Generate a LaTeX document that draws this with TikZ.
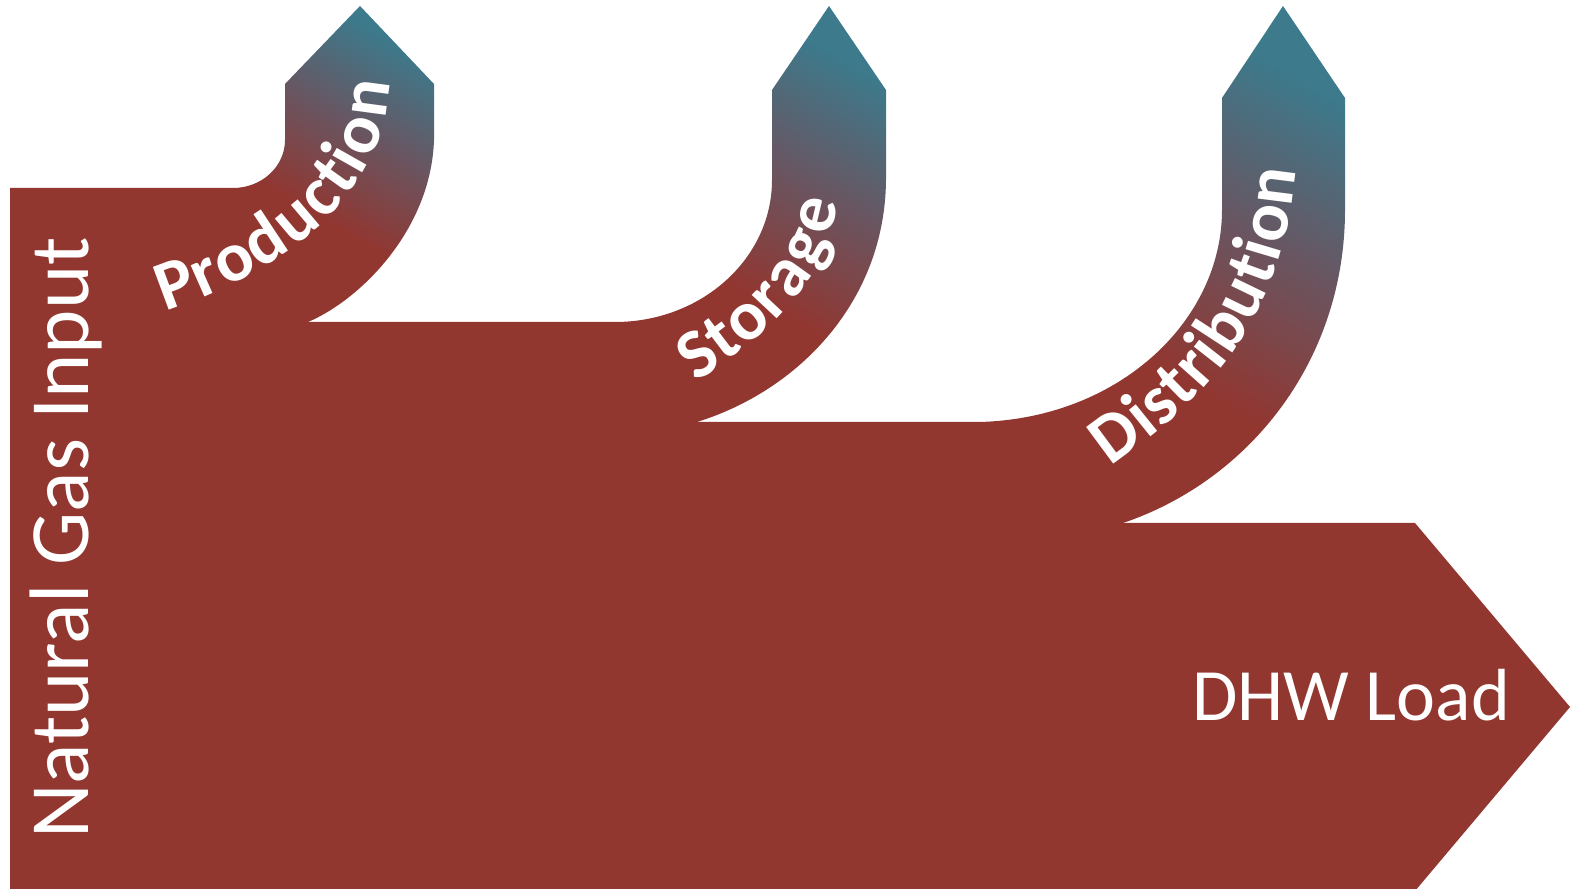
\documentclass[tikz,border=0pt]{standalone}
\usepackage{fontspec}
\setmainfont{Carlito}
\usetikzlibrary{decorations.text}

\definecolor{flowred}{RGB}{146,54,48}
\definecolor{flowmid}{RGB}{104,86,98}
\definecolor{flowteal}{RGB}{60,122,140}
\pgfdeclareverticalshading{branchshade}{100bp}{color(0bp)=(flowred); color(40bp)=(flowred); color(58bp)=(flowmid); color(75bp)=(flowteal); color(100bp)=(flowteal)}
\newcommand{\bandfont}{\color{white}\bfseries\fontsize{20}{20}\selectfont}

\begin{document}
\begin{tikzpicture}[
    x=0.01cm,y=0.01cm,
    line join=round,
    trunk/.style={fill=flowred},
    branch/.style={shading=branchshade, shading angle=-30},
    bandtext/.style={decorate, decoration={text along path, text align=center, raise=-5pt, text={|\bandfont|#1}}},
    endlabel/.style={text=white, inner sep=0pt, font=\fontsize{#1}{#1}\selectfont}
]

\useasboundingbox (0,0) rectangle (1572,-889);
\clip (0,0) rectangle (1572,-889);

\coordinate (P1) at (233,-188);
\coordinate (P2) at (308,-322);
\coordinate (S1) at (615,-322);
\coordinate (S2) at (697,-422);
\coordinate (D1) at (980,-422);
\coordinate (D2) at (1123,-523);

% main flow
\fill[trunk] (10,-188) -- (P1) -- (300,-250) -- (P2) -- (S1) -- (720,-340) -- (S2)
    -- (D1) -- (1130,-450) -- (D2) -- (1415,-523) -- (1570,-707) -- (1415,-891) -- (10,-891) -- cycle;

% losses
\shade[branch] (P1) arc[start angle=-90, end angle=0, x radius=52, y radius=48]
    -- (285,-84) -- (360,-6) -- (434,-84) -- (434,-140)
    .. controls (431,-230) and (360,-300) .. (P2) -- cycle;
\shade[branch] (S1) arc[start angle=-90, end angle=0, x radius=157, y radius=142]
    -- (772,-90) -- (829,-6) -- (886,-90) -- (886,-180)
    .. controls (885,-300) and (800,-390) .. (S2) -- cycle;
\shade[branch] (D1) .. controls (1120,-418) and (1222,-320) .. (1222,-210)
    -- (1222,-98) -- (1283,-6) -- (1345,-98) -- (1345,-210)
    .. controls (1345,-360) and (1250,-480) .. (D2) -- cycle;

\path[bandtext=Production] (122,-308) -- (160,-295) .. controls (280,-255) and (370,-180) .. (372,-80) -- (372,-40);
\path[bandtext=Storage] (646,-394) -- (680,-372) .. controls (760,-320) and (815,-270) .. (822,-190) -- (825,-150);
\path[bandtext=Distribution] (1078,-468) -- (1110,-445) .. controls (1200,-380) and (1265,-310) .. (1278,-170) -- (1281,-140);

\node[endlabel=24, rotate=90, anchor=base] (ngi) at (88,-538) {Natural Gas Input};
\node[endlabel=21, anchor=base] (dhw) at (1351,-721) {DHW Load};

\end{tikzpicture}
\end{document}
